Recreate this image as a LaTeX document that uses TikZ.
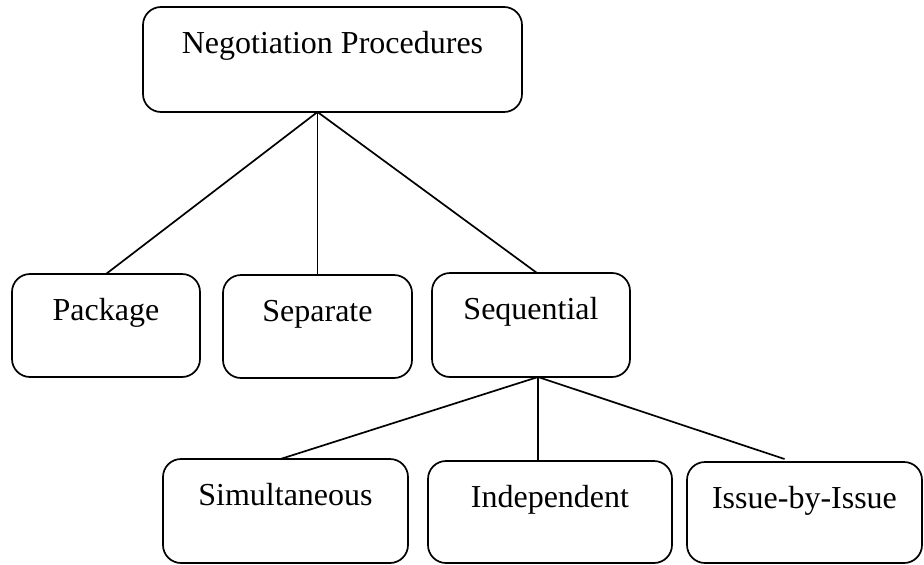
\documentclass[tikz,border=0pt]{standalone}
\usepackage{fontspec}
\setmainfont{Liberation Serif}
\begin{document}
\begin{tikzpicture}[x=1pt,y=-1pt,
  box/.style={draw, line width=1.7pt, rounded corners=18pt, inner sep=0pt, outer sep=0pt},
  lbl/.style={anchor=base, inner sep=0pt, font=\fontsize{32}{38}\selectfont},
  link/.style={line width=1.7pt}]
\useasboundingbox (0,0) rectangle (924,565);

% boxes (centre, width, height)
\node[box, minimum width=379, minimum height=105] (top) at (332.5,59.5) {};
\node[box, minimum width=188, minimum height=103] (pkg) at (106,325.5) {};
\node[box, minimum width=189, minimum height=103] (sep) at (317.5,326.5) {};
\node[box, minimum width=198, minimum height=104] (seq) at (531,325) {};
\node[box, minimum width=245, minimum height=104] (sim) at (285.5,511) {};
\node[box, minimum width=244, minimum height=102] (ind) at (550,512) {};
\node[box, minimum width=235, minimum height=101] (iss) at (804.5,512.5) {};

% labels
\node[lbl] at ([yshift=-46pt]top.north) {Negotiation Procedures};
\node[lbl] at ([yshift=-46pt]pkg.north) {Package};
\node[lbl] at ([yshift=-46pt]sep.north) {Separate};
\node[lbl] at ([yshift=-46pt]seq.north) {Sequential};
\node[lbl] at ([yshift=-46pt]sim.north) {Simultaneous};
\node[lbl] at ([yshift=-46pt]ind.north) {Independent};
\node[lbl] at ([yshift=-46pt]iss.north) {Issue-by-Issue};

% connectors
\coordinate (tfork) at (top.south -| sep.north);
\coordinate (sfork) at ([xshift=7pt]seq.south);
\draw[link] (tfork) -- (pkg.north);
\draw[link] (tfork) -- (sep.north);
\draw[link] (tfork) -- ([xshift=6pt]seq.north);
\draw[link] (sfork) -- ([xshift=-5pt]sim.north);
\draw[link] (sfork) -- (ind.north -| sfork);
\draw[link] (sfork) -- ([xshift=-20pt,yshift=3pt]iss.north);
\end{tikzpicture}
\end{document}
